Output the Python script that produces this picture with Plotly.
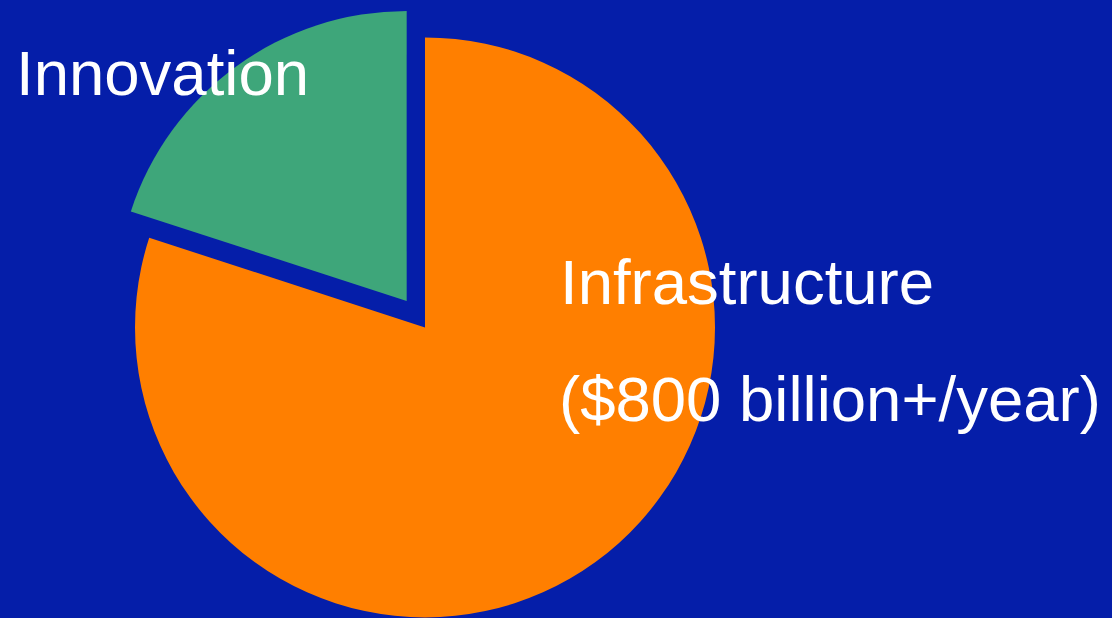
import plotly.graph_objects as go

# Annual spending split (billions of dollars per year)
categories = ["Infrastructure", "Innovation"]
values = [800, 200]
slice_colors = ["#FF7F00", "#3EA67A"]
label_lines = ["Innovation", "Infrastructure", "($800 billion+/year)"]

BG = "#051EA9"
FONT = dict(family="Arial, Liberation Sans, sans-serif", size=63.5, color="white")
CLEAR = "rgba(0,0,0,0)"

fig = go.Figure()

# Main body of the pie: only the Infrastructure slice is painted
fig.add_trace(go.Pie(
    labels=categories,
    values=values,
    sort=False,
    direction="clockwise",
    rotation=0,
    marker=dict(colors=[slice_colors[0], CLEAR], line=dict(width=0)),
    textinfo="none",
    hoverinfo="skip",
    showlegend=False,
    domain=dict(x=[0.1214, 0.6430], y=[0.0010, 0.9395]),
))

# Exploded Innovation slice, drawn from the same data with an offset centre
fig.add_trace(go.Pie(
    labels=categories,
    values=values,
    sort=False,
    direction="clockwise",
    rotation=0,
    marker=dict(colors=[CLEAR, slice_colors[1]], line=dict(width=0)),
    textinfo="none",
    hoverinfo="skip",
    showlegend=False,
    domain=dict(x=[0.1049, 0.6265], y=[0.0437, 0.9822]),
))

annotations = [
    dict(text=label_lines[0], x=0.0126, y=0.8819),
    dict(text=label_lines[1], x=0.5018, y=0.5437),
    dict(text=label_lines[2], x=0.5010, y=0.3545),
]
fig.update_layout(
    width=1112,
    height=618,
    margin=dict(l=0, r=0, t=0, b=0),
    paper_bgcolor=BG,
    plot_bgcolor=BG,
    annotations=[
        dict(a, xref="paper", yref="paper", xanchor="left", yanchor="middle",
             showarrow=False, font=FONT)
        for a in annotations
    ],
)

fig.write_html("out.html")
